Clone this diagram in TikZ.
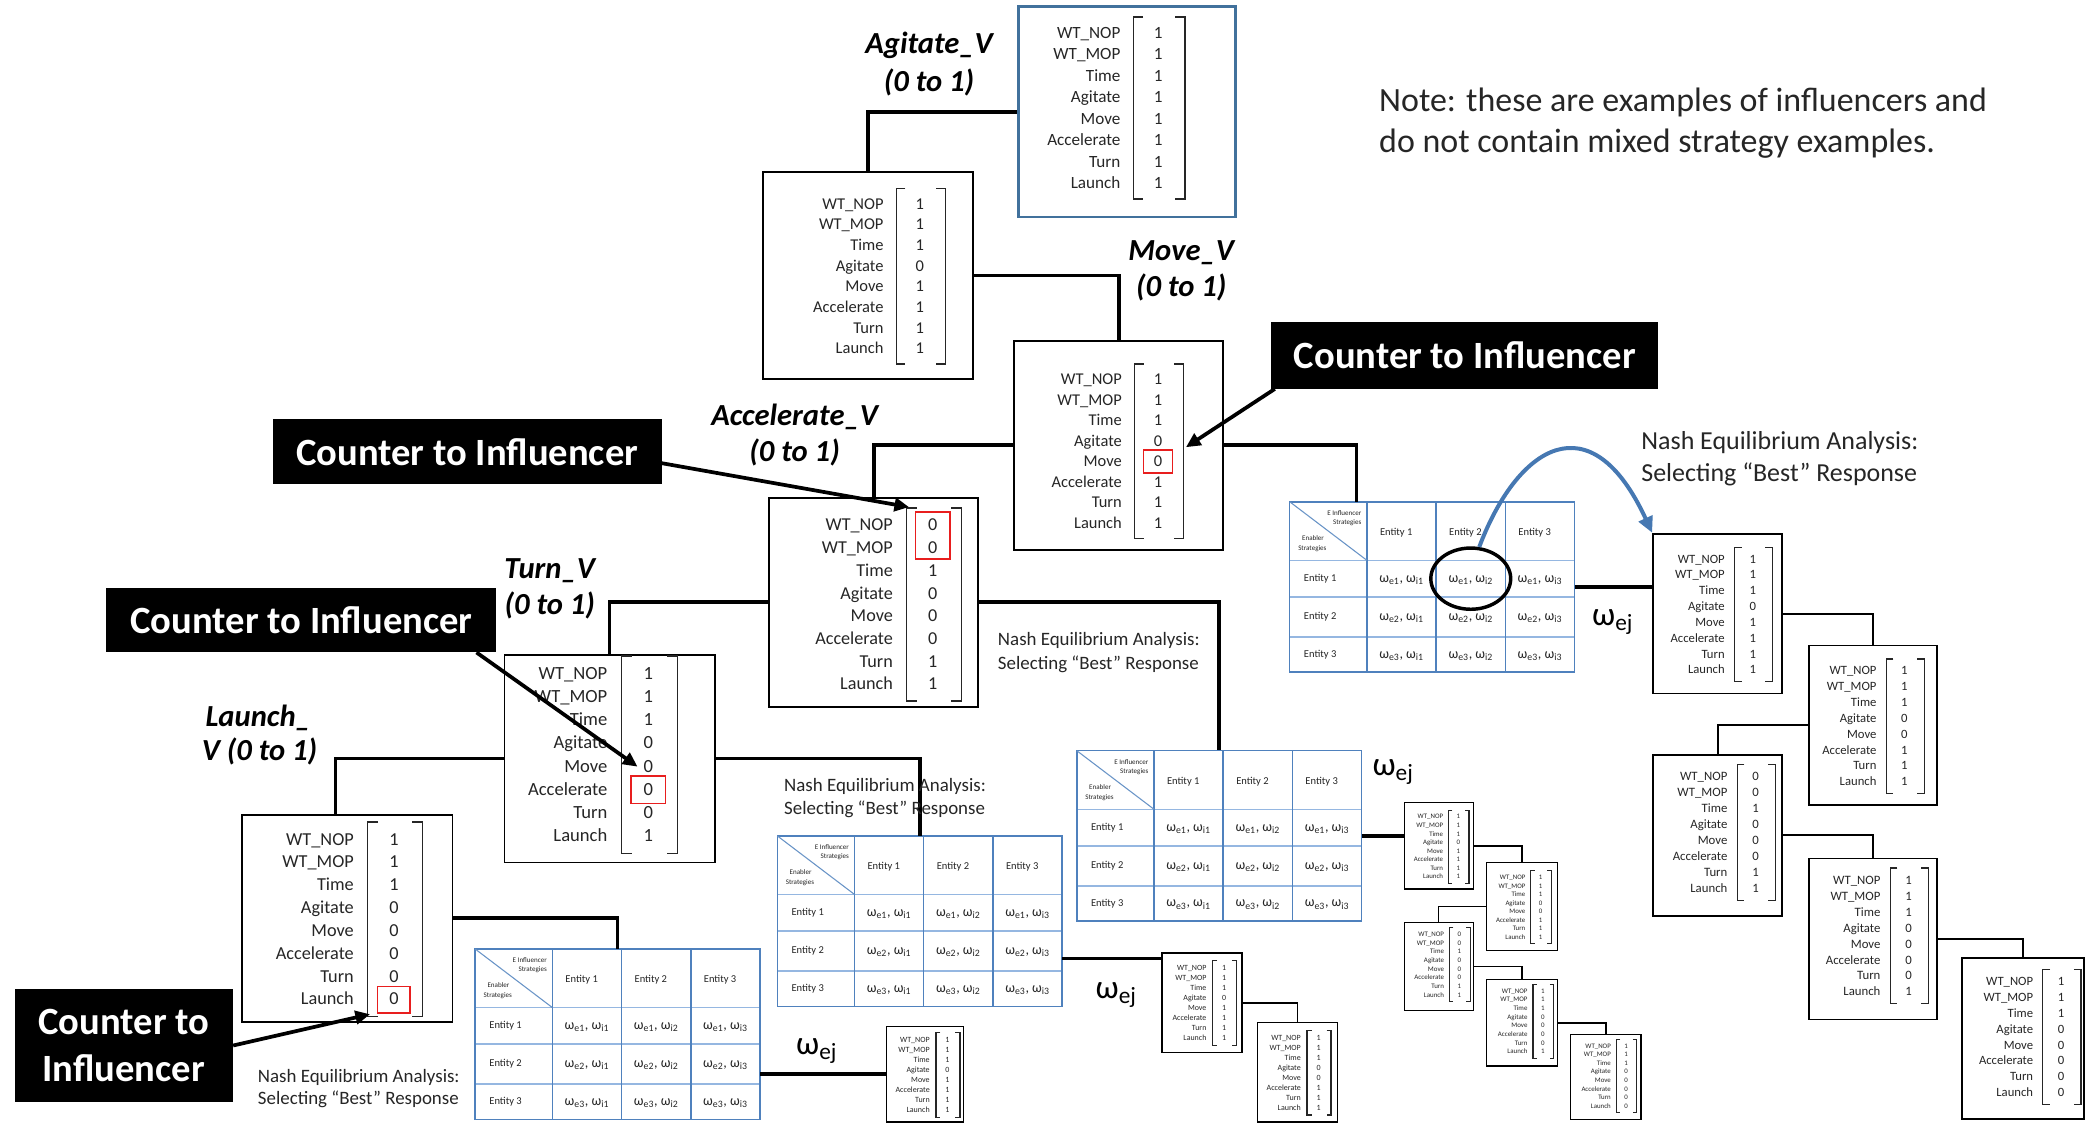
\documentclass[tikz,border=0pt]{standalone}
\usepackage{fontspec}
\setmainfont{Carlito}
\usetikzlibrary{arrows.meta,fit,shapes.geometric}

\definecolor{frameblue}{RGB}{65,113,156}
\definecolor{gridblue}{RGB}{79,129,189}
\definecolor{gridlight}{RGB}{149,183,225}
\definecolor{curveblue}{RGB}{70,120,178}
\definecolor{hired}{RGB}{232,30,30}
\definecolor{labgray}{RGB}{38,38,38}

\tikzset{
  vecframe/.style={draw=black, line width=1.4pt},
  smallframe/.style={draw=black, line width=1.0pt},
  bluframe/.style={draw=frameblue, line width=2pt},
  vecbracket/.style={draw=labgray, line width=0.9pt},
  link/.style={draw=black, line width=2.7pt},
  sublink/.style={draw=black, line width=1.4pt},
  thinlink/.style={draw=black, line width=1.0pt},
  calloutarrow/.style={draw=black, line width=2.8pt, -{Triangle[length=11pt,width=10pt]}},
  bestarrow/.style={draw=curveblue, line width=3pt, -{Triangle[length=12pt,width=11pt]}},
  counterbox/.style={fill=black, text=white, inner sep=0pt, align=center,
    font=\fontsize{29}{35}\selectfont\bfseries},
  varlabel/.style={anchor=base, inner sep=0pt, font=\fontsize{23}{27}\selectfont\bfseries\itshape},
  nashsmall/.style={anchor=base west, inner sep=0pt, text=labgray, font=\fontsize{14.2}{17}\selectfont},
  nashbig/.style={anchor=base west, inner sep=0pt, text=labgray, font=\fontsize{19.5}{23}\selectfont},
  notetext/.style={anchor=base west, inner sep=0pt, text=labgray, font=\fontsize{25.5}{30}\selectfont},
  omegalab/.style={anchor=base west, inner sep=0pt, font=\fontsize{25}{28}\selectfont},
  hilite/.style={draw=hired, line width=1.1pt},
  tgrid/.style={draw=gridblue, line width=1.1pt},
  tgridlight/.style={draw=gridlight, line width=1.1pt},
  tdiag/.style={draw=gridblue!85, line width=0.8pt},
  tinytext/.style={inner sep=0pt, text=labgray, font=\fontsize{5.3}{6}\selectfont},
  enttext/.style={inner sep=0pt, text=labgray, font=\fontsize{7.9}{9}\selectfont},
  celltext/.style={inner sep=0pt, text=labgray, font=\fontsize{10.5}{11}\selectfont},
  circmark/.style={ellipse, draw=black, line width=2.6pt, minimum width=60pt, minimum height=46pt, inner sep=0pt},
}

% Boxed column vector: name, NW corner, SE corner, row pitch, label right edge, first row y, values, frame style
\newcommand{\VecBox}[8]{%
  \coordinate (#1-nw) at (#2);
  \coordinate (#1-se) at (#3);
  \node[fit=(#1-nw)(#1-se), inner sep=0pt, #8] (#1) {};
  \pgfmathsetmacro{\vbFs}{0.8*#4}
  \pgfmathsetmacro{\vbL}{#5+0.6*#4}
  \pgfmathsetmacro{\vbR}{#5+3.0*#4}
  \pgfmathsetmacro{\vbV}{#5+1.75*#4}
  \pgfmathsetmacro{\vbT}{#6-0.75*#4}
  \pgfmathsetmacro{\vbB}{#6+7.75*#4}
  \pgfmathsetmacro{\vbA}{0.45*#4}
  \draw[vecbracket] ({\vbL+\vbA},\vbT) -- (\vbL,\vbT) -- (\vbL,\vbB) -- ({\vbL+\vbA},\vbB);
  \draw[vecbracket] ({\vbR-\vbA},\vbT) -- (\vbR,\vbT) -- (\vbR,\vbB) -- ({\vbR-\vbA},\vbB);
  \foreach \lab [count=\i] in {WT\_NOP,WT\_MOP,Time,Agitate,Move,Accelerate,Turn,Launch}
    \node[anchor=base east, inner sep=0pt, text=labgray, font=\fontsize{\vbFs}{\vbFs}\selectfont]
      at (#5, {#6+(\i-1)*#4+0.32*\vbFs}) {\lab};
  \foreach \val [count=\i] in {#7}
    \node[anchor=base, inner sep=0pt, text=labgray, font=\fontsize{\vbFs}{\vbFs}\selectfont]
      at (\vbV, {#6+(\i-1)*#4+0.32*\vbFs}) {\val};
}

% 3x3 payoff table: name, left, top
\newcommand{\PayTable}[3]{%
  \coordinate (#1-nw) at (#2,#3);
  \coordinate (#1-se) at ({#2+214},{#3+128});
  \node[fit=(#1-nw)(#1-se), inner sep=0pt] (#1) {};
  \begin{scope}[shift={(#2,#3)}]
    \draw[tgridlight] (0,44) -- (214,44) (0,71.5) -- (214,71.5) (0,101.5) -- (214,101.5);
    \draw[tgrid] (58,0) -- (58,128) (110,0) -- (110,128) (162,0) -- (162,128);
    \draw[tgrid] (0,0) rectangle (214,128);
    \draw[tdiag] (0,0) -- (58,44);
    \node[tinytext, anchor=base east] at (54,10) {E Influencer};
    \node[tinytext, anchor=base east] at (54,17) {Strategies};
    \node[tinytext, anchor=base] at (17.5,29) {Enabler};
    \node[tinytext, anchor=base] at (17,36.5) {Strategies};
    \foreach \cl/\cx in {1/80,2/132,3/184}
      \node[enttext] at (\cx,23) {Entity \cl};
    \foreach \rw/\ry in {1/57.75,2/86.5,3/114.75} {
      \node[enttext, anchor=west] at (10.5,\ry) {Entity \rw};
      \foreach \cl/\cx in {1/84,2/136,3/188}
        \node[celltext] at (\cx,{\ry+1}) {ω\textsubscript{e\rw}, ω\textsubscript{i\cl}};
    }
  \end{scope}
}

\begin{document}
\begin{tikzpicture}[x=1pt,y=-1pt]
\fill[white] (0,0) rectangle (1568,843);
\useasboundingbox (0,0) rectangle (1568,843);

% ---- main chain of vectors ----
\VecBox{A}{765,5}{928,163}{16.1}{842}{24.8}{1,1,1,1,1,1,1,1}{bluframe}
\VecBox{B}{573,129}{731,285}{15.5}{664}{153.3}{1,1,1,0,1,1,1,1}{vecframe}
\VecBox{C}{762,256}{919,413}{15.45}{843}{285}{1,1,1,0,0,1,1,1}{vecframe}
\VecBox{D}{578,374}{735,531}{17.06}{671}{394.5}{0,0,1,0,0,0,1,1}{vecframe}
\VecBox{E}{379,492}{537,648}{17.45}{456.5}{505.9}{1,1,1,0,0,0,0,1}{vecframe}
\VecBox{F}{182,612}{340,767.6}{17.15}{266}{630.5}{1,1,1,0,0,0,0,0}{vecframe}

% ---- right-hand chain ----
\VecBox{R1}{1242,401}{1339,521}{11.9}{1296}{420}{1,1,1,0,1,1,1,1}{vecframe}
\VecBox{R2}{1359,485}{1455,605}{11.9}{1410}{504}{1,1,1,0,0,1,1,1}{vecframe}
\VecBox{R3}{1242,567}{1339,688}{12}{1298}{583.3}{0,0,1,0,0,0,1,1}{vecframe}
\VecBox{R4}{1359,645}{1455,766}{12}{1413}{661.2}{1,1,1,0,0,0,0,1}{vecframe}
\VecBox{R5}{1474,720}{1566,841}{11.9}{1527.7}{737.5}{1,1,1,0,0,0,0,0}{vecframe}

% ---- small chains ----
\VecBox{S1}{1055,603}{1107,668}{6.44}{1084.4}{613.6}{1,1,1,0,1,1,1,1}{smallframe}
\VecBox{S2}{1117,648}{1170,714}{6.44}{1146.2}{659.1}{1,1,1,0,0,1,1,1}{smallframe}
\VecBox{S3}{1055,693}{1107,759}{6.5}{1085.1}{702}{0,0,1,0,0,0,1,1}{smallframe}
\VecBox{S4}{1117,736}{1170,801}{6.5}{1147.8}{744.6}{1,1,1,0,0,0,0,1}{smallframe}
\VecBox{S5}{1180,777}{1233,841}{6.44}{1210.4}{785.9}{1,1,1,0,0,0,0,0}{smallframe}
\VecBox{Q1}{873,716}{933,791}{7.45}{906.6}{727.5}{1,1,1,0,1,1,1,1}{smallframe}
\VecBox{Q2}{945,768}{1005,843}{7.5}{977.5}{779.6}{1,1,1,0,0,1,1,1}{smallframe}
\VecBox{P1}{666,771}{724,843}{7.5}{698.7}{781.4}{1,1,1,0,1,1,1,1}{smallframe}

% ---- payoff tables ----
\PayTable{T1}{357}{713}
\PayTable{T4}{584}{628}
\PayTable{T2}{809}{564}
\PayTable{T3}{969}{377}

% ---- highlighted entries ----
\draw[hilite] (859,338) rectangle (881,355.5);
\draw[hilite] (688,384.5) rectangle (713.8,420);
\draw[hilite] (474,583) rectangle (500,603.5);
\draw[hilite] (283.8,741) rectangle (308.2,761);

% ---- tree connectors ----
\draw[link] (B.north) |- (A.west);
\draw[link] (B.east) -| (C.north);
\draw[link] (C.west) -| (D.north);
\draw[link] (C.east) -| ([xshift=-57pt]T3.north);
\draw[link] (D.west) -| (E.north);
\draw[link] (D.east) -| (T2.north);
\draw[link] (E.west) -| ([xshift=-9pt]F.north);
\draw[link] (E.east) -| (T4.north);
\draw[link] (F.east) -| (T1.north);
\draw[link] (T1.east |- P1.west) -- (P1.west);
\coordinate (q1in) at ([yshift=33.5pt]Q1.west);
\draw[link] (T4.east |- q1in) -- (q1in);
\draw[link] (T2.east) -- (T2.east -| S1.west);
\draw[link] (T3.east) -- (T3.east -| R1.west);

\draw[sublink] (R1.east) -| (R2.north);
\draw[sublink] (R2.west) -| (R3.north);
\draw[sublink] (R3.east) -| (R4.north);
\draw[sublink] (R4.east) -| (R5.north);
\draw[thinlink] (S1.east) -| (S2.north);
\draw[thinlink] (S2.west) -| (S3.north);
\draw[thinlink] (S3.east) -| (S4.north);
\draw[thinlink] (S4.east) -| (S5.north);
\draw[thinlink] (Q1.east) -| (Q2.north);

% ---- variable labels ----
\node[varlabel] (agv1) at (698,40) {Agitate\_V};
\node[varlabel] (agv2) at (698,69) {(0 to 1)};
\node[varlabel] (mov1) at (887.5,195.6) {Move\_V};
\node[varlabel] (mov2) at (887.5,222.6) {(0 to 1)};
\node[varlabel] (acv1) at (597,319.6) {Accelerate\_V};
\node[varlabel] (acv2) at (597,347) {(0 to 1)};
\node[varlabel] (tuv1) at (413,434.6) {Turn\_V};
\node[varlabel] (tuv2) at (413,461.6) {(0 to 1)};
\node[varlabel] (lav1) at (194,545.6) {Launch\_};
\node[varlabel] (lav2) at (195,571.6) {V (0 to 1)};

% ---- payoff outputs ----
\node[omegalab] (w1) at (598,792) {ω\textsubscript{ej}};
\node[omegalab] (w2) at (823,750) {ω\textsubscript{ej}};
\node[omegalab] (w3) at (1031,583) {ω\textsubscript{ej}};
\node[omegalab] (w4) at (1196,470) {ω\textsubscript{ej}};

% ---- analysis captions ----
\node[nashsmall] (na1) at (749.6,484.7) {Nash Equilibrium Analysis:};
\node[nashsmall] (na2) at (749.6,502.7) {Selecting “Best” Response};
\node[nashsmall] (nb1) at (589,594.7) {Nash Equilibrium Analysis:};
\node[nashsmall] (nb2) at (589,611.7) {Selecting “Best” Response};
\node[nashsmall] (nc1) at (193.6,813.4) {Nash Equilibrium Analysis:};
\node[nashsmall] (nc2) at (193.6,830) {Selecting “Best” Response};
\node[nashbig] (nd1) at (1233,337.4) {Nash Equilibrium Analysis:};
\node[nashbig] (nd2) at (1233,361.4) {Selecting “Best” Response};

\node[notetext] (note1) at (1036,83.4) {Note: these are examples of influencers and};
\node[notetext] (note2) at (1036,114.4) {do not contain mixed strategy examples.};

% ---- counter call-outs ----
\node[counterbox, minimum width=291pt, minimum height=50pt] (CT1) at (1100.5,267) {Counter to Influencer};
\node[counterbox, minimum width=292pt, minimum height=49pt] (CT2) at (351,339.5) {Counter to Influencer};
\node[counterbox, minimum width=293pt, minimum height=48pt] (CT3) at (226.5,466) {Counter to Influencer};
\node[counterbox, minimum width=164pt, minimum height=85pt] (CT4) at (93,785.5) {Counter to\\Influencer};

\coordinate (a1e) at (891,336);
\coordinate (a2e) at (683,381);
\coordinate (a3e) at (479,576);
\coordinate (a4e) at (278,762);
\draw[calloutarrow] ([xshift=3pt]CT1.south west) -- (a1e);
\draw[calloutarrow] ([yshift=-8.5pt]CT2.east) -- (a2e);
\draw[calloutarrow] ([xshift=131.5pt]CT3.south) -- (a3e);
\draw[calloutarrow] (CT4.east) -- (a4e);

% ---- best response selection ----
\node[circmark] (circ) at (1105,434.75) {};
\draw[bestarrow] (circ.75) .. controls (1140,335) and (1195,300) .. (R1.north west);

\end{tikzpicture}
\end{document}
